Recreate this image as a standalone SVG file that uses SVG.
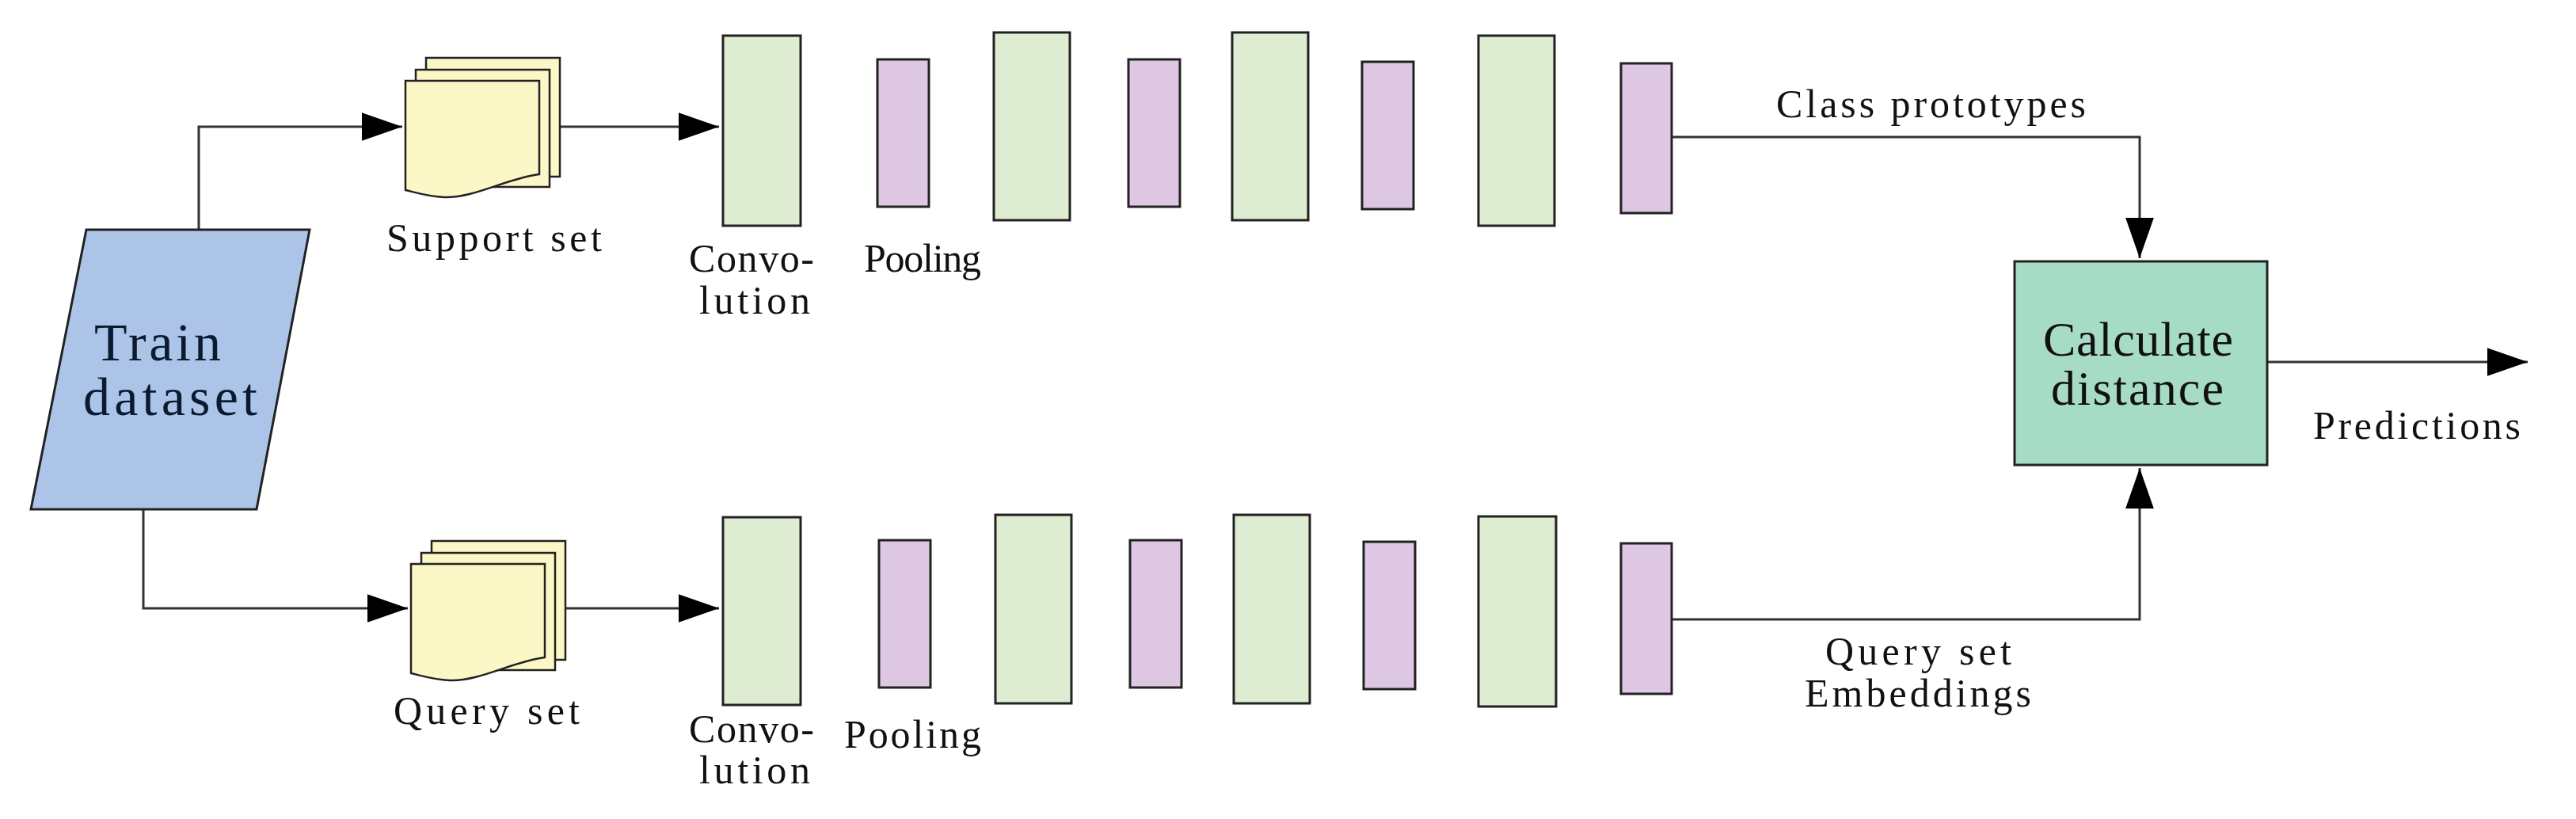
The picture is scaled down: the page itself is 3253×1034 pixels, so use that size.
<svg xmlns="http://www.w3.org/2000/svg" width="3253" height="1034" viewBox="0 0 3253 1034">
<defs>
<style>
.t{font-family:"Liberation Serif","DejaVu Serif",serif;fill:#111;}
.l{font-size:50px;}
.b{font-size:68px;fill:#0c1a30;}
.g{fill:#deecd2;stroke:#222;stroke-width:3;}
.p{fill:#ddc7e2;stroke:#222;stroke-width:3;}
.d{fill:#fcf7c6;stroke:#222;stroke-width:2.5;}
.c{fill:none;stroke:#333;stroke-width:3;}
</style>
<marker id="A" viewBox="0 0 10 10" refX="10" refY="5" markerWidth="17" markerHeight="17" orient="auto"><path d="M0,1.5L10,5L0,8.5Z" fill="#000"/></marker>
</defs>
<g id="connectors">
<path class="c" d="M251,290V160H508" marker-end="url(#A)"/>
<path class="c" d="M181,643V768H515" marker-end="url(#A)"/>
<path class="c" d="M707,160H908" marker-end="url(#A)"/>
<path class="c" d="M714,768H908" marker-end="url(#A)"/>
<path class="c" d="M2111,173H2702V326" marker-end="url(#A)"/>
<path class="c" d="M2111,782H2702V591" marker-end="url(#A)"/>
<path class="c" d="M2863,457H3192" marker-end="url(#A)"/>
</g>
<g id="train"><path d="M109,290H391L324,643H39Z" fill="#acc4e7" stroke="#222" stroke-width="3"/>
<text class="t b" x="119" y="455" textLength="160">Train</text><text class="t b" x="105" y="524" textLength="220">dataset</text></g>
<g id="support">
<rect class="d" x="538" y="73" width="169" height="150"/>
<rect class="d" x="525" y="88" width="169" height="148"/>
<path class="d" d="M512,102H681V220C640,225 600,250 561,249C540,248 525,243 512,240Z"/>
<text class="t l" x="488" y="317" textLength="272">Support  set</text></g>
<g id="query">
<rect class="d" x="545" y="683" width="169" height="150"/>
<rect class="d" x="532" y="698" width="169" height="148"/>
<path class="d" d="M519,712H688V830C647,835 607,860 568,859C547,858 532,853 519,850Z"/>
<text class="t l" x="497" y="914" textLength="235">Query  set</text></g>
<g id="top-net">
<rect class="g" x="913" y="45" width="98" height="240"/>
<rect class="p" x="1108" y="75" width="65" height="186"/>
<rect class="g" x="1255" y="41" width="96" height="237"/>
<rect class="p" x="1425" y="75" width="65" height="186"/>
<rect class="g" x="1556" y="41" width="96" height="237"/>
<rect class="p" x="1720" y="78" width="65" height="186"/>
<rect class="g" x="1867" y="45" width="96" height="240"/>
<rect class="p" x="2047" y="80" width="64" height="189"/>
<text class="t l" x="870" y="343" textLength="158">Convo-</text><text class="t l" x="883" y="396" textLength="140">lution</text>
<text class="t l" x="1091" y="343" textLength="148">Pooling</text>
</g>
<g id="bottom-net">
<rect class="g" x="913" y="653" width="98" height="237"/>
<rect class="p" x="1110" y="682" width="65" height="186"/>
<rect class="g" x="1257" y="650" width="96" height="238"/>
<rect class="p" x="1427" y="682" width="65" height="186"/>
<rect class="g" x="1558" y="650" width="96" height="238"/>
<rect class="p" x="1722" y="684" width="65" height="186"/>
<rect class="g" x="1867" y="652" width="98" height="240"/>
<rect class="p" x="2047" y="686" width="64" height="190"/>
<text class="t l" x="870" y="937" textLength="158">Convo-</text><text class="t l" x="883" y="989" textLength="140">lution</text>
<text class="t l" x="1066" y="944" textLength="173">Pooling</text>
</g>
<g id="calc"><rect x="2544" y="330" width="319" height="257" fill="#a6dbc6" stroke="#222" stroke-width="3"/>
<text class="t" font-size="62" x="2580" y="449" textLength="240" fill="#102018">Calculate</text>
<text class="t" font-size="62" x="2590" y="511" textLength="218" fill="#102018">distance</text></g>
<g id="labels">
<text class="t l" x="2243" y="148" textLength="391">Class  prototypes</text>
<text class="t l" x="2921" y="554" textLength="262">Predictions</text>
<text class="t l" x="2305" y="839" textLength="235">Query  set</text>
<text class="t l" x="2279" y="892" textLength="286">Embeddings</text>
</g>
</svg>
